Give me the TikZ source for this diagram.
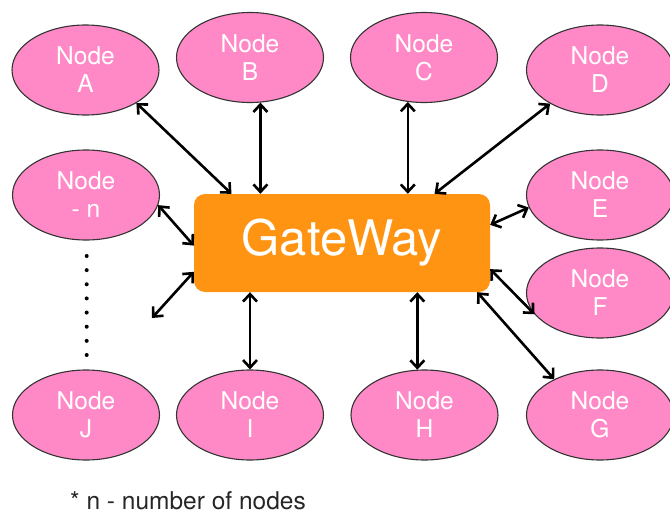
\documentclass[tikz,border=0pt]{standalone}
\usepackage{fontspec}
\setmainfont{TeX Gyre Heros}
\usetikzlibrary{arrows.meta,shapes.geometric,calc}
\definecolor{pinkfill}{HTML}{FF89C6}
\definecolor{gworange}{HTML}{FF9412}
\definecolor{edgegray}{HTML}{333333}
\tikzset{
  peer/.style={ellipse,draw=edgegray,line width=1.1pt,fill=pinkfill,
    minimum width=147pt,minimum height=90pt,inner sep=0pt,
    text=white,align=center,font=\fontsize{24.5}{28}\selectfont},
  gwbox/.style={rectangle,rounded corners=11pt,fill=gworange,
    minimum width=296pt,minimum height=98pt,inner sep=0pt,
    text=white,font=\fontsize{49}{52}\selectfont},
  link/.style={line width=2.6pt,{Straight Barb[length=7.5pt,width=14pt]}-{Straight Barb[length=7.5pt,width=14pt]}},
  dotline/.style={line width=4pt,line cap=round,dash pattern=on 0pt off 14.14pt},
  note/.style={font=\fontsize{24.5}{28}\selectfont,text=black!85,inner sep=0pt}
}
\begin{document}
\begin{tikzpicture}[x=1pt,y=-1pt]
\useasboundingbox (0,0) rectangle (670,514);
\node[gwbox] (gw) at (342,243) {GateWay};
\node[peer] (A) at (85.5,70) {Node\\A};
\node[peer] (B) at (250,57.5) {Node\\B};
\node[peer] (C) at (424,57.5) {Node\\C};
\node[peer] (D) at (600,70) {Node\\D};
\node[peer] (N) at (86,195) {Node\\- n};
\node[peer] (E) at (600,195) {Node\\E};
\node[peer] (F) at (600,293) {Node\\F};
\node[peer] (G) at (600,415) {Node\\G};
\node[peer] (H) at (424.5,415) {Node\\H};
\node[peer] (I) at (250,415) {Node\\I};
\node[peer] (J) at (86,415) {Node\\J};
\coordinate (dang) at (152,318);
\coordinate (dottop) at (86.7,256);
\coordinate (dotbot) at (86.7,355);
\draw[link] (A.-33.7) -- (gw.156.7);
\draw[link] (B.-77.9) -- (B.-77.9 |- gw.north);
\draw[link] (C.-110.9) -- (C.-110.9 |- gw.north);
\draw[link] (D.-146.6) -- (gw.28.3);
\draw[link] (N.-8.6) -- (gw.181.5);
\draw[link] (E.-170.7) -- (gw.7.85);
\draw[link] (F.-162.1) -- (gw.-10.3);
\draw[link] (G.142.5) -- (gw.-20.8);
\draw[link] (H.99.3) -- (H.99.3 |- gw.south);
\draw[link] (I.north) -- (I.north |- gw.south);
\draw[link] (gw.-169.2) -- (dang);
\draw[dotline] (dottop) -- (dotbot);
\node[note,anchor=base west] (fn) at (70,509) {* n - number of nodes};
\end{tikzpicture}
\end{document}
